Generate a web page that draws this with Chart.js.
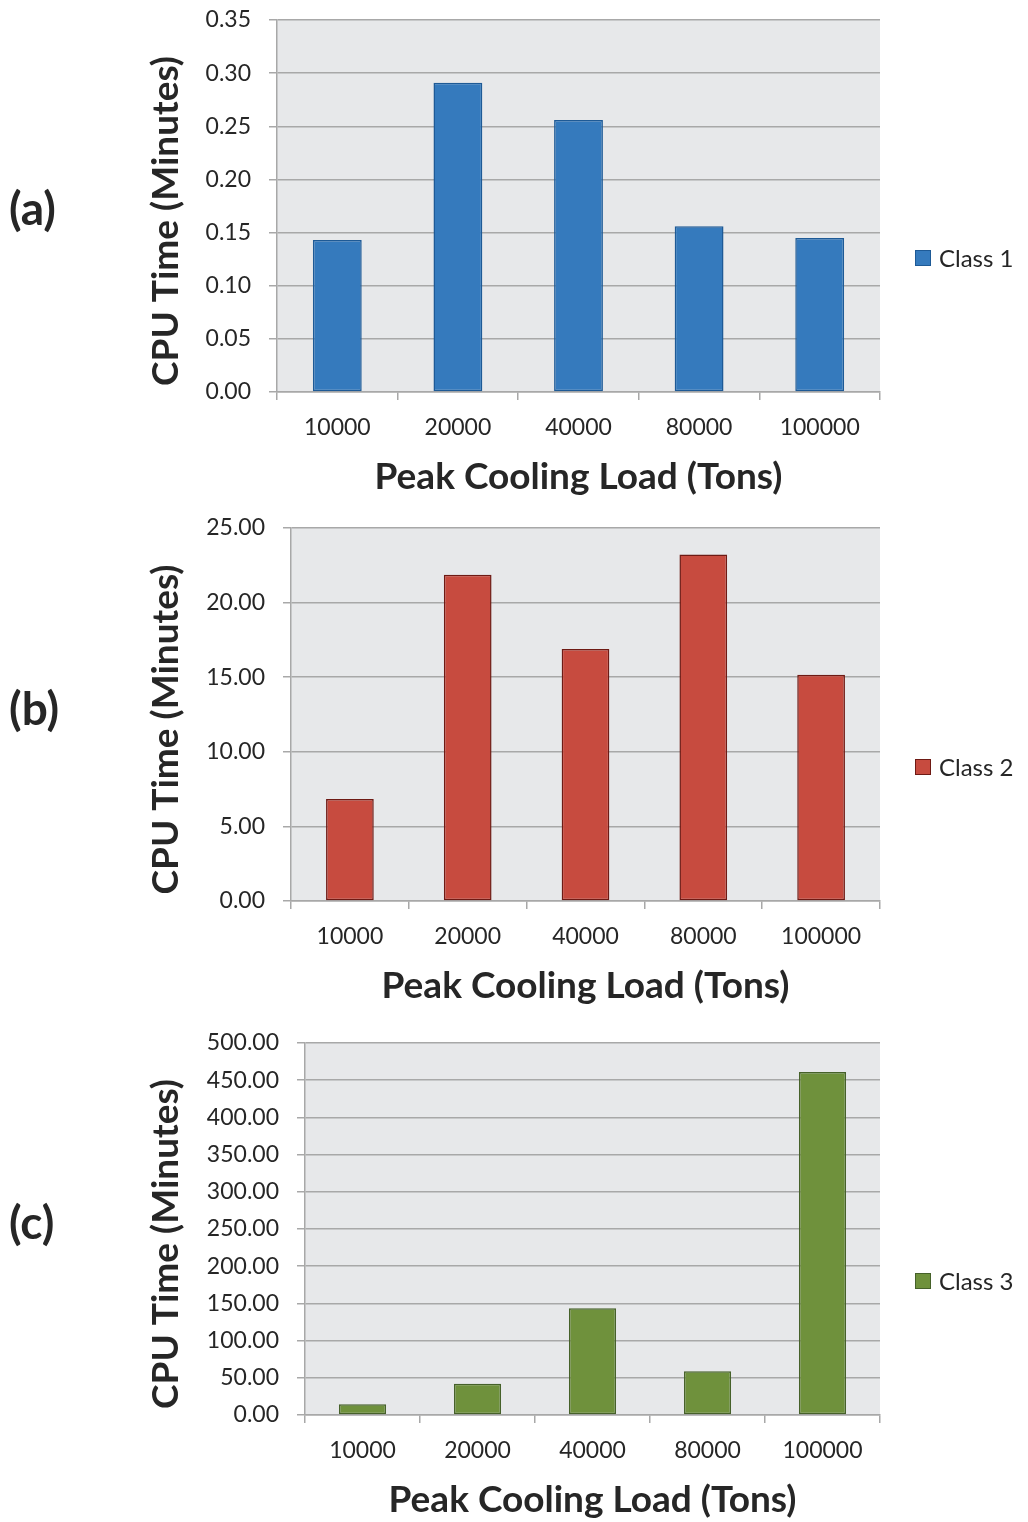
<!DOCTYPE html>
<html><head><meta charset="utf-8">
<script src="https://cdn.jsdelivr.net/npm/chart.js@4.4.1/dist/chart.umd.min.js"></script>
<style>
body{margin:0;background:#fff;width:1028px;height:1522px;position:relative;overflow:hidden;font-family:Lato,sans-serif;color:#262626}
canvas{position:absolute;left:0}
.lab{position:absolute;left:9px;font-weight:bold;font-size:46px;line-height:50px;height:50px}
.leg{position:absolute;left:915px;font-size:24px;line-height:28px;height:28px;display:flex;align-items:center;white-space:nowrap}
.leg .sw{width:14px;height:14px;border:1px solid;margin-right:8px;display:inline-block}
</style></head><body>
<canvas id="cA" width="1028" height="499" style="top:0px;width:1028px;height:499px"></canvas>
<canvas id="cB" width="1028" height="508" style="top:500px;width:1028px;height:508px"></canvas>
<canvas id="cC" width="1028" height="512" style="top:1010px;width:1028px;height:512px"></canvas>
<div id="extras"></div>
<script>
const categories = ['10000', '20000', '40000', '80000', '100000'];
const class1 = [0.143, 0.291, 0.256, 0.156, 0.145];
const class2 = [6.83, 21.86, 16.89, 23.22, 15.17];
const class3 = [14.4, 42.1, 143.4, 58.7, 461.1];
const ticksA = [0, 0.05, 0.10, 0.15, 0.20, 0.25, 0.30, 0.35];
const ticksB = [0, 5, 10, 15, 20, 25];
const ticksC = [0, 50, 100, 150, 200, 250, 300, 350, 400, 450, 500];
const seriesNames = ['Class 1', 'Class 2', 'Class 3'];
const panelLabels = ['(a)', '(b)', '(c)'];
const xTitle = 'Peak Cooling Load (Tons)';
const yTitle = 'CPU Time (Minutes)';

const GRID = '#A8A8A8';
const TXT = '#262626';
const FONT = 'Lato, sans-serif';

const plotBg = {
  id: 'plotBg',
  beforeDraw(chart) {
    const {ctx, chartArea: a} = chart;
    ctx.save();
    ctx.fillStyle = '#E7E8EA';
    ctx.fillRect(a.left, a.top, a.right - a.left, a.bottom - a.top);
    ctx.restore();
  }
};
const yTitlePlugin = {
  id: 'yTitleDraw',
  afterDraw(chart) {
    const {ctx, chartArea: a} = chart;
    ctx.save();
    ctx.translate(166, (a.top + a.bottom) / 2 + 15);
    ctx.rotate(-Math.PI / 2);
    ctx.font = 'bold 37px ' + FONT;
    ctx.fillStyle = TXT;
    ctx.textAlign = 'center';
    ctx.textBaseline = 'middle';
    ctx.fillText(yTitle, 0, 0);
    ctx.restore();
  }
};

function makeChart(id, values, ticks, name, fill, border, yWidth, padTop, barPct) {
  const ymax = ticks[ticks.length - 1];
  return new Chart(document.getElementById(id), {
    type: 'bar',
    data: {
      labels: categories,
      datasets: [{
        label: name, data: values,
        backgroundColor: fill, borderColor: border, borderWidth: 1.5,
        borderSkipped: false, barPercentage: barPct, categoryPercentage: 1
      }]
    },
    options: {
      responsive: false, animation: false, devicePixelRatio: 1,
      layout: {padding: {top: padTop, right: 148, bottom: 0, left: 0}},
      plugins: {legend: {display: false}, tooltip: {enabled: false}},
      scales: {
        x: {
          grid: {offset: true, drawOnChartArea: false, drawTicks: true, tickLength: 8, color: GRID, lineWidth: 1.5},
          border: {display: true, color: GRID, width: 1.5},
          ticks: {color: TXT, font: {family: FONT, size: 23}, padding: 14, maxRotation: 0},
          title: {display: true, text: xTitle, color: TXT, font: {family: FONT, size: 37, weight: 'bold'}, padding: 0},
          afterFit(s) { s.height = 107; s.paddingLeft = 0; s.paddingRight = 0; }
        },
        y: {
          min: 0, max: ymax,
          afterBuildTicks(s) { s.ticks = ticks.map(v => ({value: v})); },
          grid: {color: GRID, lineWidth: 1.5, drawTicks: true, tickLength: 8},
          border: {display: true, color: GRID, width: 1.5},
          ticks: {color: TXT, font: {family: FONT, size: 23}, padding: 18, callback: v => Number(v).toFixed(2)},
          afterFit(s) { s.width = yWidth; s.paddingTop = 0; s.paddingBottom = 0; }
        }
      }
    },
    plugins: [plotBg, yTitlePlugin]
  });
}

makeChart('cA', class1, ticksA, seriesNames[0], '#357ABD', '#1E5A96', 277, 20, 0.405);
makeChart('cB', class2, ticksB, seriesNames[1], '#C74B3F', '#6E1A14', 291, 28, 0.405);
makeChart('cC', class3, ticksC, seriesNames[2], '#6F913C', '#46612A', 305, 33, 0.41);

const extras = document.getElementById('extras');
const labY = [208, 708, 1222];
const legY = [258, 767, 1281];
const legFill = ['#357ABD', '#C74B3F', '#6F913C'];
const legBorder = ['#1E5A96', '#6E1A14', '#46612A'];
for (let i = 0; i < 3; i++) {
  const l = document.createElement('div');
  l.className = 'lab'; l.style.top = (labY[i] - 25) + 'px'; l.textContent = panelLabels[i];
  extras.appendChild(l);
  const g = document.createElement('div');
  g.className = 'leg'; g.style.top = (legY[i] - 14) + 'px';
  const sw = document.createElement('span'); sw.className = 'sw';
  sw.style.background = legFill[i]; sw.style.borderColor = legBorder[i];
  const t = document.createElement('span'); t.textContent = seriesNames[i];
  g.appendChild(sw); g.appendChild(t);
  extras.appendChild(g);
}
</script>
</body></html>
